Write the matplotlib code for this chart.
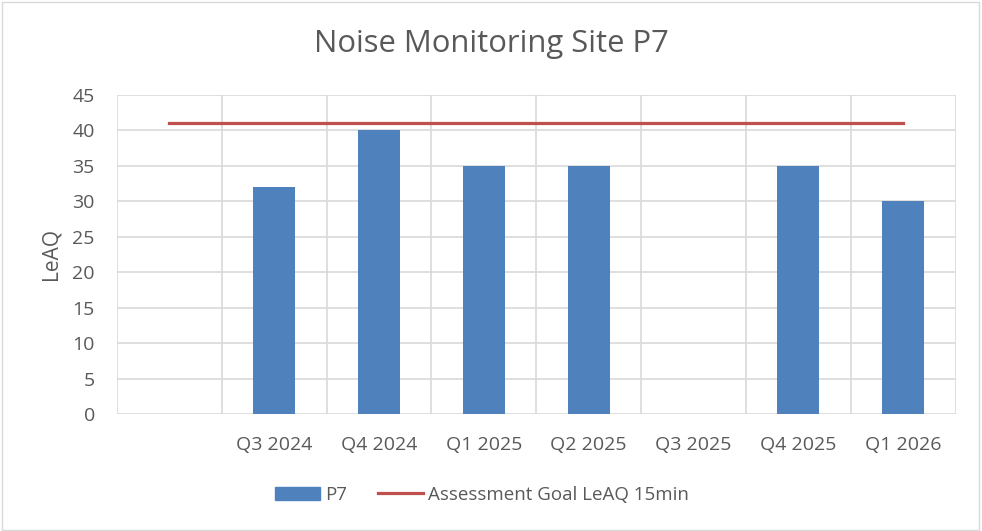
import matplotlib
matplotlib.use("Agg")
import matplotlib.pyplot as plt
from matplotlib.patches import Rectangle
from matplotlib.lines import Line2D

# 数据
categories = ["", "Q3 2024", "Q4 2024", "Q1 2025", "Q2 2025", "Q3 2025", "Q4 2025", "Q1 2026"]
p7_values = [None, 32, 40, 35, 35, None, 35, 30]
goal_values = [41, 41, 41, 41, 41, 41, 41, 41]
y_ticks = [0, 5, 10, 15, 20, 25, 30, 35, 40, 45]

bar_color = "#4F81BD"
line_color = "#C0504D"
text_color = "#595959"
grid_color = "#D9D9D9"

plt.rcParams['font.family'] = ['Open Sans', 'DejaVu Sans']

fig = plt.figure(figsize=(9.82, 5.31), dpi=100)
ax = fig.add_axes([117 / 982, 1 - 414 / 531, (955.5 - 117) / 982, (414 - 94.7) / 531])

x = list(range(len(categories)))
bar_x = [i for i, v in zip(x, p7_values) if v is not None]
bar_h = [v for v in p7_values if v is not None]
ax.bar(bar_x, bar_h, width=0.4, color=bar_color, zorder=3)
ax.plot(x, goal_values, color=line_color, linewidth=2.3, zorder=4)

# 坐标轴范围
ax.set_xlim(-0.5, len(categories) - 0.5)
ax.set_ylim(0, 45)
ax.set_yticks(y_ticks)
ax.set_xticks(x)
ax.set_xticklabels(categories)

# 网格线
for b in [i - 0.5 for i in range(len(categories) + 1)]:
    ax.axvline(b, color=grid_color, linewidth=1.2, zorder=1)
for t in y_ticks:
    ax.axhline(t, color=grid_color, linewidth=1.2, zorder=1)
for s in ax.spines.values():
    s.set_visible(False)

ax.tick_params(axis='both', length=0, labelsize=14, colors=text_color)
ax.tick_params(axis='x', pad=16)
ax.tick_params(axis='y', pad=16)
ax.set_ylabel("LeAQ", fontsize=15, color=text_color, labelpad=8)

fig.text(491 / 982, 1 - 44 / 531, "Noise Monitoring Site P7", ha='center', va='center',
         fontsize=22.3, color=text_color)

# 图例
handles = [Rectangle((0, 0), 1, 1, color=bar_color),
           Line2D([0], [0], color=line_color, linewidth=2.3)]
fig.legend(handles, ["P7", "Assessment Goal LeAQ 15min"], loc='center',
           bbox_to_anchor=(482 / 982, 1 - 495 / 531), ncol=2, frameon=False,
           fontsize=13.5, labelcolor=text_color, handlelength=2.4, handletextpad=0.3,
           columnspacing=1.6)

# 图表边框
fig.patches.append(Rectangle((2 / 982, 1 / 531), 977 / 982, 528 / 531, transform=fig.transFigure,
                             fill=False, edgecolor="#D9D9D9", linewidth=1))

plt.savefig("out.png", dpi=100)
